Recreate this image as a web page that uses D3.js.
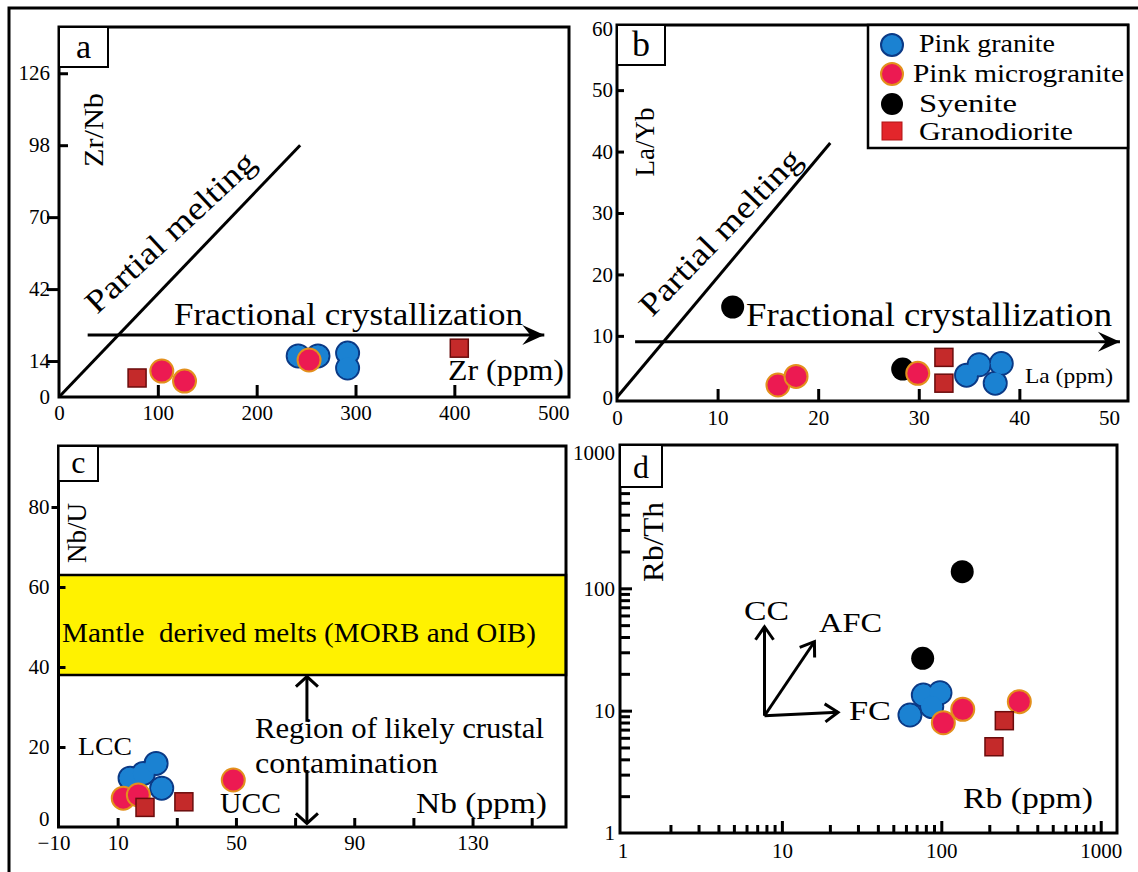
<!DOCTYPE html>
<html>
<head>
<meta charset="utf-8">
<script src="https://cdn.jsdelivr.net/npm/d3@7"></script>
<style>
  html, body { margin: 0; padding: 0; background: #fff; }
  svg { display: block; }
  svg text { font-family: "Liberation Serif", "DejaVu Serif", "Times New Roman", serif; }
</style>
</head>
<body>
<svg id="chart" width="1138" height="872"></svg>
<script>
// ---------------- data ----------------
// (a) Zr (ppm) vs Zr/Nb
const zrGranite = [[242, 16], [262, 16], [292, 17.1], [292, 11.3]];
const zrMicro   = [[104, 10.1], [127, 6.2], [253, 14.4]];
const zrGrano   = [[79, 7.4], [405, 19]];
const zrTicksX  = [0, 100, 200, 300, 400, 500];
const zrTicksY  = [0, 14, 42, 70, 98, 126];
const zrMeltLine = [[0, 0], [244, 98]];
const zrFcArrow  = [[29, 24.1], [491, 24.1]];

// (b) La (ppm) vs La/Yb
const laGranite = [[34.75, 3.6], [36.0, 5.3], [38.2, 5.5], [37.6, 2.3]];
const laMicro   = [[16.0, 2.0], [17.8, 3.4], [29.9, 3.9]];
const laSyenite = [[11.5, 14.7], [28.4, 4.6]];
const laGrano   = [[32.5, 6.5], [32.5, 2.3]];
const laTicksX  = [0, 10, 20, 30, 40, 50];
const laTicksY  = [0, 10, 20, 30, 40, 50, 60];
const laMeltLine = [[0, 0], [21.2, 41.4]];
const laFcArrow  = [[1.8, 9.05], [50.0, 9.05]];

// (c) Nb (ppm) vs Nb/U
const nbGranite = [[14.2, 12.2], [18.7, 13.4], [23.0, 15.9], [24.9, 9.7]];
const nbMicro   = [[11.9, 7.2], [17.0, 8.0], [49.1, 11.75]];
const nbGrano   = [[19.25, 4.9], [32.4, 6.3]];
const nbTickMarksX  = [10, 30, 50, 70, 90, 110, 130, 150];
const nbTickLabelsX = [-10, 10, 50, 90, 130];
const nbTicksY  = [0, 20, 40, 60, 80];
const mantleBand = [38, 63];
const crustArrowX = 74;
const crustArrowUpper = [37.6, 26.3];   // arrow towards the mantle field
const crustArrowLower = [14.25, 0.9];   // arrow towards the crust

// (d) Rb (ppm) vs Rb/Th, log-log
const rbGranite = [[63.6, 9.21], [77.1, 13.4], [98.1, 14.0], [87.1, 10.8]];
const rbMicro   = [[103, 7.97], [136.3, 10.26], [308.6, 11.84]];
const rbSyenite = [[135.3, 136.7], [76.4, 26.8]];
const rbGrano   = [[248.5, 8.28], [214, 5.07]];
const rbMajor   = [1, 10, 100, 1000];
const rbVectorOrigin = [7.78, 9.09];
const rbVectorEnds = [[7.78, 48.5], [16.0, 36.6], [22.5, 9.7]];

// legend
const legendNames = ["Pink granite", "Pink microgranite", "Syenite", "Granodiorite"];

// ---------------- style ----------------
const FONT = "\"Liberation Serif\", \"DejaVu Serif\", \"Times New Roman\", serif";
const C = {
  granite: "#1b82d2", graniteEdge: "#0b3a86",
  micro: "#ec1a52", microEdge: "#e3901c",
  syenite: "#000000",
  grano: "#c42a2a", granoEdge: "#6a0c0c",
  mantle: "#fff200"
};
const R = 11.5, SQ = 18;

const svg = d3.select("#chart");
svg.append("rect").attr("width", 1138).attr("height", 872).attr("fill", "#fff");

// outer border of the figure
svg.append("path").attr("d", "M9,872V8H1138")
  .attr("fill", "none").attr("stroke", "#000").attr("stroke-width", 3);

// ---------------- helpers ----------------
function text(g, str, x, y, size, opts = {}) {
  const t = g.append("text").attr("x", x).attr("y", y)
    .style("font-family", FONT).attr("font-size", size).attr("fill", "#000").text(str);
  if (opts.len) t.attr("textLength", opts.len).attr("lengthAdjust", "spacingAndGlyphs");
  if (opts.anchor) t.attr("text-anchor", opts.anchor);
  if (opts.rotate !== undefined) t.attr("transform", `rotate(${opts.rotate},${x},${y})`);
  return t;
}

function styleAxis(sel, size) {
  sel.attr("font-family", null);
  sel.select(".domain").remove();
  sel.selectAll(".tick line").attr("stroke", "#000").attr("stroke-width", 3);
  sel.selectAll(".tick text").style("font-family", FONT).attr("font-size", size).attr("fill", "#000");
}

function frame(g, x, y) {
  const [x0, x1] = x.range(), [y0, y1] = y.range();
  g.append("rect").attr("x", x0).attr("y", y1).attr("width", x1 - x0).attr("height", y0 - y1)
    .attr("fill", "none").attr("stroke", "#000").attr("stroke-width", 3);
}

function panelTag(g, letter, x0, y0, w, h, size) {
  g.append("rect").attr("x", x0).attr("y", y0).attr("width", w).attr("height", h)
    .attr("fill", "#fff").attr("stroke", "#000").attr("stroke-width", 2);
  text(g, letter, x0 + w / 2, y0 + h * 0.78, size, { anchor: "middle" });
}

function graniteBlob(g, x, y, pts) {
  g.append("g").selectAll("circle").data(pts).join("circle")
    .attr("cx", d => x(d[0])).attr("cy", d => y(d[1])).attr("r", R)
    .attr("fill", C.granite).attr("stroke", C.graniteEdge).attr("stroke-width", 2);
  g.append("g").selectAll("circle").data(pts).join("circle")
    .attr("cx", d => x(d[0])).attr("cy", d => y(d[1])).attr("r", R - 1)
    .attr("fill", C.granite);
}
function circles(g, x, y, pts, fill, edge) {
  g.append("g").selectAll("circle").data(pts).join("circle")
    .attr("cx", d => x(d[0])).attr("cy", d => y(d[1])).attr("r", R)
    .attr("fill", fill).attr("stroke", edge || "none").attr("stroke-width", edge ? 2 : 0);
}
function squares(g, x, y, pts) {
  g.append("g").selectAll("rect").data(pts).join("rect")
    .attr("x", d => x(d[0]) - SQ / 2).attr("y", d => y(d[1]) - SQ / 2)
    .attr("width", SQ).attr("height", SQ)
    .attr("fill", C.grano).attr("stroke", C.granoEdge).attr("stroke-width", 1.5);
}

// solid barbed arrow head
function solidHead(g, tx, ty, ux, uy) {
  const nx = -uy, ny = ux, L = 22, W = 10, N = 14;
  const p = [[tx, ty], [tx - L * ux + W * nx, ty - L * uy + W * ny],
             [tx - N * ux, ty - N * uy], [tx - L * ux - W * nx, ty - L * uy - W * ny]];
  g.append("path").attr("d", "M" + p.map(q => q.join(",")).join("L") + "Z").attr("fill", "#000");
}
// open V arrow head
function openHead(g, tx, ty, ux, uy, L = 12, W = 9) {
  const nx = -uy, ny = ux;
  const p = [[tx - L * ux + W * nx, ty - L * uy + W * ny], [tx, ty], [tx - L * ux - W * nx, ty - L * uy - W * ny]];
  g.append("path").attr("d", "M" + p.map(q => q.join(",")).join("L"))
    .attr("fill", "none").attr("stroke", "#000").attr("stroke-width", 3).attr("stroke-linejoin", "miter");
}
function arrow(g, x1, y1, x2, y2, head) {
  g.append("line").attr("x1", x1).attr("y1", y1).attr("x2", x2).attr("y2", y2)
    .attr("stroke", "#000").attr("stroke-width", 3);
  const len = Math.hypot(x2 - x1, y2 - y1);
  head(g, x2, y2, (x2 - x1) / len, (y2 - y1) / len);
}

// ================= (a) =================
{
  const g = svg.append("g");
  const x = d3.scaleLinear().domain([0, 516]).range([59, 569]);
  const y = d3.scaleLinear().domain([0, 144]).range([397, 27]);

  const ax = g.append("g").attr("transform", `translate(0,${y.range()[0]})`)
    .call(d3.axisBottom(x).tickValues(zrTicksX).tickSize(-12).tickPadding(8).tickFormat(d3.format("d")));
  styleAxis(ax, 21);
  ax.selectAll(".tick line").filter(d => d === 0 || d === 500).remove();

  const ay = g.append("g").attr("transform", `translate(${x.range()[0]},0)`)
    .call(d3.axisLeft(y).tickValues(zrTicksY).tickSize(12).tickPadding(-3).tickFormat(d3.format("d")));
  styleAxis(ay, 21);
  ay.selectAll(".tick line").filter(d => d >= 98).attr("x2", 9);
  ay.selectAll(".tick line").filter(d => d === 0).remove();

  // partial melting trend
  g.append("line")
    .attr("x1", x(zrMeltLine[0][0])).attr("y1", y(zrMeltLine[0][1]))
    .attr("x2", x(zrMeltLine[1][0])).attr("y2", y(zrMeltLine[1][1]))
    .attr("stroke", "#000").attr("stroke-width", 3);
  text(g, "Partial melting", 97, 315, 32, { len: 220, rotate: -43 });

  // fractional crystallization trend
  arrow(g, x(zrFcArrow[0][0]), y(zrFcArrow[0][1]), x(zrFcArrow[1][0]), y(zrFcArrow[1][1]), solidHead);
  text(g, "Fractional crystallization", 174, 325, 31, { len: 349 });

  graniteBlob(g, x, y, zrGranite);
  circles(g, x, y, zrMicro, C.micro, C.microEdge);
  squares(g, x, y, zrGrano);

  text(g, "Zr (ppm)", 448, 380, 29, { len: 116 });
  text(g, "Zr/Nb", 103, 130, 28, { len: 74, anchor: "middle", rotate: -90 });

  frame(g, x, y);
  panelTag(g, "a", 59, 27, 49, 40, 34);
}

// ================= (b) =================
{
  const g = svg.append("g");
  const x = d3.scaleLinear().domain([0, 50.8]).range([617, 1128]);
  const y = d3.scaleLinear().domain([-0.6, 60.6]).range([401, 25]);

  const ax = g.append("g").attr("transform", `translate(0,${y.range()[0]})`)
    .call(d3.axisBottom(x).tickValues(laTicksX).tickSize(-12).tickPadding(9).tickFormat(d3.format("d")));
  styleAxis(ax, 21);
  ax.selectAll(".tick line").filter(d => d === 0 || d === 50).remove();
  ax.selectAll(".tick text").filter(d => d === 50).attr("dx", -11);

  const ay = g.append("g").attr("transform", `translate(${x.range()[0]},0)`)
    .call(d3.axisLeft(y).tickValues(laTicksY).tickSize(-7).tickPadding(4).tickFormat(d3.format("d")));
  styleAxis(ay, 21);
  ay.selectAll(".tick line").filter(d => d === 0 || d === 60).remove();

  g.append("line")
    .attr("x1", x(laMeltLine[0][0])).attr("y1", y(laMeltLine[0][1]))
    .attr("x2", x(laMeltLine[1][0])).attr("y2", y(laMeltLine[1][1]))
    .attr("stroke", "#000").attr("stroke-width", 3);
  text(g, "Partial melting", 652, 318, 32, { len: 218, rotate: -46 });

  arrow(g, x(laFcArrow[0][0]), y(laFcArrow[0][1]), x(laFcArrow[1][0]), y(laFcArrow[1][1]), solidHead);
  text(g, "Fractional crystallization", 746, 326, 34, { len: 366 });

  graniteBlob(g, x, y, laGranite);
  circles(g, x, y, laSyenite, C.syenite);
  circles(g, x, y, laMicro, C.micro, C.microEdge);
  squares(g, x, y, laGrano);

  text(g, "La (ppm)", 1025, 383, 21, { len: 88 });
  text(g, "La/Yb", 654, 142, 27, { len: 69, anchor: "middle", rotate: -90 });

  frame(g, x, y);
  panelTag(g, "b", 617, 25, 48, 40, 36);

  // legend
  const lg = g.append("g");
  lg.append("rect").attr("x", 868).attr("y", 25).attr("width", 260).attr("height", 123)
    .attr("fill", "#fff").attr("stroke", "#000").attr("stroke-width", 2.5);
  const rowY = [45, 74, 104, 131];
  const textX = [919, 913, 919, 919];
  const baseY = [52, 82, 112, 140];
  const widths = [136, 211, 98, 154];
  lg.append("circle").attr("cx", 892).attr("cy", rowY[0]).attr("r", 11)
    .attr("fill", C.granite).attr("stroke", C.graniteEdge).attr("stroke-width", 2);
  lg.append("circle").attr("cx", 892).attr("cy", rowY[1]).attr("r", 11)
    .attr("fill", C.micro).attr("stroke", C.microEdge).attr("stroke-width", 2);
  lg.append("circle").attr("cx", 892).attr("cy", rowY[2]).attr("r", 11).attr("fill", C.syenite);
  lg.append("rect").attr("x", 892 - 10).attr("y", rowY[3] - 9).attr("width", 20).attr("height", 18)
    .attr("fill", "#e3262b").attr("stroke", "#b01414").attr("stroke-width", 1);
  legendNames.forEach((name, i) => text(lg, name, textX[i], baseY[i], 25, { len: widths[i] }));
}

// ================= (c) =================
{
  const g = svg.append("g");
  const x = d3.scaleLinear().domain([-10, 161.6]).range([58.5, 566]);
  const y = d3.scaleLinear().domain([0, 95.25]).range([827, 446]);

  // mantle field
  g.append("rect").attr("x", x.range()[0]).attr("y", y(mantleBand[1]))
    .attr("width", x.range()[1] - x.range()[0]).attr("height", y(mantleBand[0]) - y(mantleBand[1]))
    .attr("fill", C.mantle).attr("stroke", "#000").attr("stroke-width", 2.5);
  text(g, "Mantle  derived melts (MORB and OIB)", 62, 642, 28, { len: 474 })
    .style("white-space", "pre");

  const ax = g.append("g").attr("transform", `translate(0,${y.range()[0]})`)
    .call(d3.axisBottom(x).tickValues(nbTickMarksX).tickSize(-9).tickFormat(""));
  styleAxis(ax, 21);
  const axl = g.append("g").attr("transform", `translate(0,${y.range()[0]})`)
    .call(d3.axisBottom(x).tickValues(nbTickLabelsX).tickSize(0).tickPadding(8).tickFormat(d3.format("d")));
  styleAxis(axl, 21);
  axl.selectAll(".tick line").remove();
  axl.selectAll(".tick text").filter(d => d === -10).attr("dx", -5);

  const ay = g.append("g").attr("transform", `translate(${x.range()[0]},0)`)
    .call(d3.axisLeft(y).tickValues(nbTicksY).tickSize(-7).tickPadding(9).tickFormat(d3.format("d")));
  styleAxis(ay, 21);
  ay.selectAll(".tick line").filter(d => d === 80).attr("x2", -7);
  ay.selectAll(".tick line").filter(d => d === 0).remove();
  ay.selectAll(".tick text").filter(d => d === 0).attr("dy", "-0.05em");

  // crustal contamination double arrow, interrupted by its caption
  const ax0 = x(crustArrowX);
  arrow(g, ax0, y(crustArrowUpper[1]), ax0, y(crustArrowUpper[0]), (gg, tx, ty, ux, uy) => openHead(gg, tx, ty, ux, uy, 10, 11));
  arrow(g, ax0, y(crustArrowLower[0]), ax0, y(crustArrowLower[1]), (gg, tx, ty, ux, uy) => openHead(gg, tx, ty, ux, uy, 10, 11));
  text(g, "Region of likely crustal", 255, 738, 29, { len: 289 });
  text(g, "contamination", 255, 773, 29, { len: 183 });

  graniteBlob(g, x, y, nbGranite);
  circles(g, x, y, nbMicro, C.micro, C.microEdge);
  squares(g, x, y, nbGrano);

  text(g, "LCC", 78, 755, 26, { len: 54 });
  text(g, "UCC", 220, 813, 29, { len: 61 });
  text(g, "Nb (ppm)", 416, 813, 30, { len: 131 });
  text(g, "Nb/U", 86, 533, 27, { len: 60, anchor: "middle", rotate: -90 });

  frame(g, x, y);
  panelTag(g, "c", 58.5, 446, 39.5, 35, 32);
}

// ================= (d) =================
{
  const g = svg.append("g");
  const x = d3.scaleLog().domain([0.965, 1265]).range([620, 1117]);
  const y = d3.scaleLog().domain([1, 1484]).range([833, 445]);

  const minorX = [], minorY = [];
  [1, 10, 100, 1000].forEach(p => d3.range(2, 10).forEach(m => {
    if (m * p <= 1265) minorX.push(m * p);
    if (m * p <= 1484) minorY.push(m * p);
  }));

  const axm = g.append("g").attr("transform", `translate(0,${y.range()[0]})`)
    .call(d3.axisBottom(x).tickValues(minorX).tickSize(-8).tickFormat(""));
  styleAxis(axm, 21);
  const ax = g.append("g").attr("transform", `translate(0,${y.range()[0]})`)
    .call(d3.axisBottom(x).tickValues(rbMajor).tickSize(-12).tickPadding(10).tickFormat(d3.format("d")));
  styleAxis(ax, 21);
  ax.selectAll(".tick line").filter(d => d === 1).remove();

  const aym = g.append("g").attr("transform", `translate(${x.range()[0]},0)`)
    .call(d3.axisLeft(y).tickValues(minorY).tickSize(-10).tickFormat(""));
  styleAxis(aym, 21);
  const ay = g.append("g").attr("transform", `translate(${x.range()[0]},0)`)
    .call(d3.axisLeft(y).tickValues(rbMajor).tickSize(-12).tickPadding(5).tickFormat(d3.format("d")));
  styleAxis(ay, 21);
  ay.selectAll(".tick line").filter(d => d === 1 || d === 1000).remove();
  ay.selectAll(".tick text").filter(d => d === 1000).attr("dy", "-0.3em");

  // process vectors: crustal contamination, AFC, fractional crystallization
  const ox = x(rbVectorOrigin[0]), oy = y(rbVectorOrigin[1]);
  rbVectorEnds.forEach(e => arrow(g, ox, oy, x(e[0]), y(e[1]), (gg, tx, ty, ux, uy) => openHead(gg, tx, ty, ux, uy, 13, 9)));
  text(g, "CC", 744, 620, 28, { len: 45 });
  text(g, "AFC", 819, 632, 28, { len: 63 });
  text(g, "FC", 849, 720, 28, { len: 42 });

  graniteBlob(g, x, y, rbGranite);
  circles(g, x, y, rbSyenite, C.syenite);
  circles(g, x, y, rbMicro, C.micro, C.microEdge);
  squares(g, x, y, rbGrano);

  text(g, "Rb (ppm)", 963, 808, 30, { len: 130 });
  text(g, "Rb/Th", 663, 542, 30, { len: 80, anchor: "middle", rotate: -90 });

  frame(g, x, y);
  panelTag(g, "d", 620, 445, 42, 42, 32);
}
</script>
</body>
</html>
